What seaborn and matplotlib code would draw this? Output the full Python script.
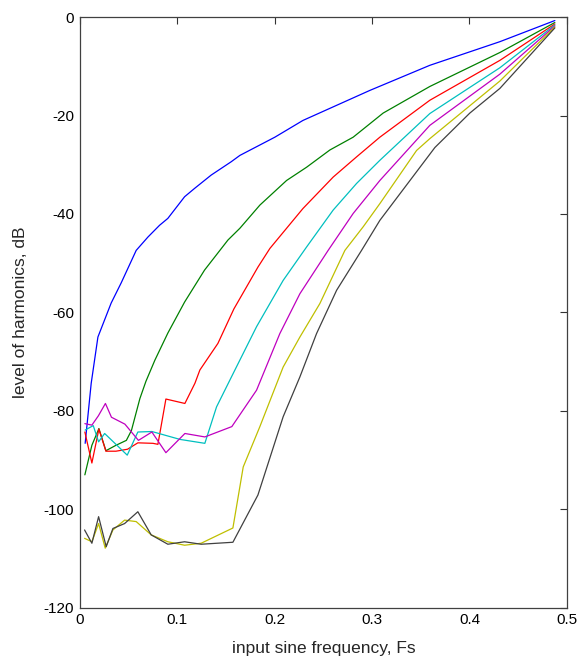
import pandas as pd
import matplotlib
matplotlib.use("Agg")
import matplotlib.pyplot as plt
import seaborn as sns

# harmonic levels (x in Fs, y in dB)
x_h2 = [0.0054, 0.0116, 0.0185, 0.0321, 0.0424, 0.0578, 0.0698, 0.0818, 0.0903, 0.1075,
        0.1178, 0.1348, 0.1553, 0.1643, 0.2002, 0.229, 0.2977, 0.3593, 0.4312, 0.4877]
y_h2 = [-86.6, -74.4, -65.0, -58.1, -54.0, -47.4, -44.7, -42.3, -40.9, -36.5,
        -34.8, -32.1, -29.4, -28.1, -24.4, -21.0, -14.9, -9.8, -5.0, -0.7]

x_h3 = [0.0051, 0.0123, 0.0195, 0.0267, 0.037, 0.0477, 0.0529, 0.0616, 0.0678, 0.077,
        0.0903, 0.1075, 0.128, 0.152, 0.1643, 0.1848, 0.2122, 0.2328, 0.2567, 0.2806,
        0.3114, 0.3593, 0.4312, 0.4877]
y_h3 = [-93.0, -87.0, -83.6, -88.1, -87.0, -86.0, -84.0, -77.5, -74.0, -69.7,
        -64.2, -57.9, -51.4, -45.3, -42.9, -38.2, -33.2, -30.5, -27.0, -24.4,
        -19.5, -14.1, -7.2, -1.1]

x_h4 = [0.0051, 0.0123, 0.0195, 0.0267, 0.037, 0.0489, 0.0595, 0.075, 0.0801, 0.0883,
        0.1078, 0.1181, 0.1232, 0.1417, 0.1581, 0.1828, 0.1951, 0.229, 0.2601, 0.2841,
        0.308, 0.3593, 0.4312, 0.4877]
y_h4 = [-84.3, -90.6, -83.7, -88.2, -88.2, -87.8, -86.5, -86.6, -86.8, -77.6,
        -78.5, -74.4, -71.7, -66.3, -59.3, -50.8, -47.0, -38.9, -32.5, -28.4,
        -24.4, -16.9, -8.8, -1.4]

x_h5 = [0.0054, 0.0137, 0.0192, 0.0254, 0.0486, 0.0595, 0.0739, 0.1027, 0.1283, 0.1403,
        0.1574, 0.1814, 0.2087, 0.2328, 0.2601, 0.2841, 0.308, 0.3593, 0.4312, 0.4877]
y_h5 = [-83.9, -83.0, -86.3, -84.6, -89.0, -84.3, -84.2, -85.8, -86.6, -79.2,
        -72.4, -62.9, -53.5, -46.7, -39.2, -33.8, -29.1, -19.6, -10.3, -1.6]

x_h6 = [0.0051, 0.0123, 0.0190, 0.0262, 0.0324, 0.0462, 0.0601, 0.0739, 0.0883, 0.1078,
        0.1283, 0.1560, 0.1814, 0.2053, 0.2259, 0.2549, 0.2806, 0.308, 0.3593, 0.4312,
        0.4877]
y_h6 = [-82.6, -82.9, -81.0, -78.5, -81.3, -82.7, -86.0, -84.3, -88.5, -84.6,
        -85.3, -83.2, -75.8, -64.3, -56.2, -47.4, -39.9, -33.2, -22.0, -11.6,
        -1.8]

x_h7 = [0.0048, 0.0123, 0.0192, 0.026, 0.0339, 0.0459, 0.0578, 0.0732, 0.0903, 0.1075,
        0.1245, 0.1571, 0.1677, 0.1848, 0.2087, 0.2259, 0.2464, 0.2721, 0.2909, 0.308,
        0.3457, 0.3593, 0.4312, 0.4877]
y_h7 = [-105.9, -106.6, -102.9, -107.9, -104.2, -102.2, -102.5, -105.2, -106.6, -107.3,
        -106.9, -103.8, -91.4, -83.2, -71.1, -65.0, -58.2, -47.4, -42.6, -37.9,
        -27.1, -24.7, -13.0, -2.0]

x_h8 = [0.0048, 0.0123, 0.0192, 0.0270, 0.0339, 0.0459, 0.0595, 0.0732, 0.0903, 0.1075,
        0.1245, 0.1571, 0.1828, 0.2087, 0.2259, 0.243, 0.2636, 0.2892, 0.308, 0.3645,
        0.4004, 0.4312, 0.4877]
y_h8 = [-104.2, -106.9, -101.5, -107.6, -103.9, -102.9, -100.5, -105.2, -107.1, -106.6,
        -107.1, -106.7, -97.1, -81.2, -73.1, -64.3, -55.5, -47.4, -41.3, -26.5,
        -19.5, -14.5, -2.2]

names = ["h2", "h3", "h4", "h5", "h6", "h7", "h8"]
xs = [x_h2, x_h3, x_h4, x_h5, x_h6, x_h7, x_h8]
ys = [y_h2, y_h3, y_h4, y_h5, y_h6, y_h7, y_h8]
colors = [(0, 0, 1), (0, 0.5, 0), (1, 0, 0), (0, 0.75, 0.75),
          (0.75, 0, 0.75), (0.75, 0.75, 0), (0.25, 0.25, 0.25)]

df = pd.concat([pd.DataFrame({"f": x, "level": y, "harm": n})
                for n, x, y in zip(names, xs, ys)], ignore_index=True)

sns.set_style("white")
plt.rcParams["font.family"] = ["Liberation Sans", "DejaVu Sans"]
plt.rcParams["axes.unicode_minus"] = False

fig = plt.figure(figsize=(5.79, 6.57), dpi=100)
ax = fig.add_axes([0.138, 0.075, 0.841, 0.899])

sns.lineplot(data=df, x="f", y="level", hue="harm", palette=colors,
             estimator=None, sort=False, linewidth=0.9, legend=False, ax=ax)

ax.set_xlim(0, 0.5)
ax.set_ylim(-120, 0)
ax.set_xticks([0, 0.1, 0.2, 0.3, 0.4, 0.5])
ax.set_xticklabels(["0", "0.1", "0.2", "0.3", "0.4", "0.5"])
ax.set_yticks(range(-120, 1, 20))
ax.tick_params(direction="in", length=5, width=0.8, top=True, right=True,
               labelsize=11, colors="#333333", labelcolor="black", pad=4)
for s in ax.spines.values():
    s.set_color("#404040")
    s.set_linewidth(0.9)
ax.set_xlabel("input sine frequency, Fs", fontsize=12.5)
ax.set_ylabel("level of harmonics, dB", fontsize=12.5)
ax.xaxis.set_label_coords(0.5, -0.056)
ax.yaxis.set_label_coords(-0.106, 0.5)

fig.savefig("out.png", dpi=100)
